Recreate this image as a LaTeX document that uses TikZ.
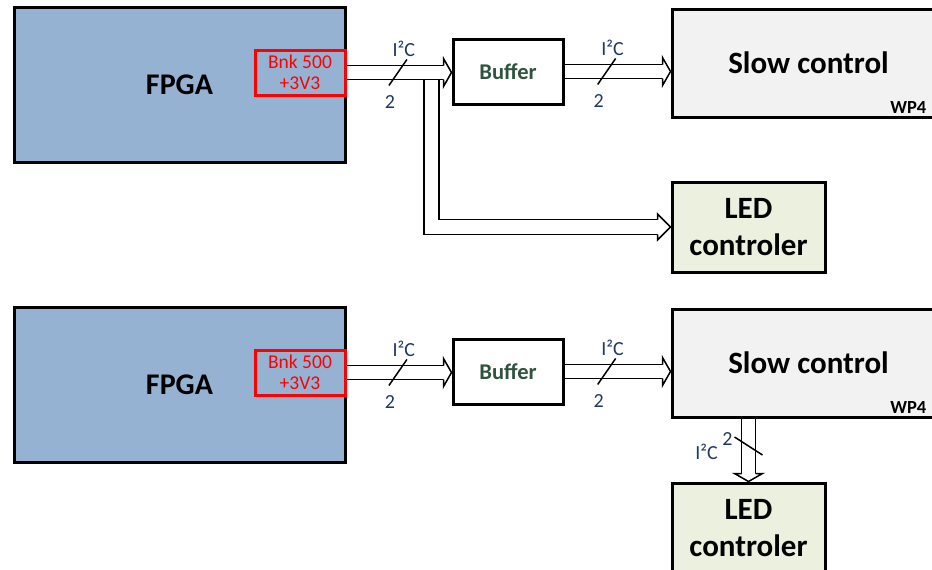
\documentclass[tikz,border=0pt]{standalone}
\usepackage{fontspec}
\setmainfont{Carlito}
\definecolor{fpgablue}{RGB}{150,178,210}
\definecolor{slowgray}{RGB}{242,242,242}
\definecolor{ledgreen}{RGB}{235,241,222}
\definecolor{bufgreen}{RGB}{46,84,62}
\definecolor{busblue}{RGB}{31,56,100}
\tikzset{
  head/.pic={\filldraw[fill=white, line width=1.5pt, miter limit=10]
    (-8,-7) -- (-8,-14) -- (0,0) -- (-8,14) -- (-8,7);},
  longhead/.pic={\filldraw[fill=white, line width=1.5pt, miter limit=10]
    (-13,-7.5) -- (-13,-13) -- (0,0) -- (-13,13) -- (-13,7.5);}
}
\begin{document}
\begin{tikzpicture}[x=1pt, y=-1pt,
    box/.style={draw, line width=3pt, align=center, inner sep=0pt,
      font=\bfseries\fontsize{31}{37}\selectfont},
    bank/.style={draw=red, line width=3pt, text=red, align=center, inner sep=0pt,
      font=\fontsize{19.5}{21}\selectfont},
    bus/.style={double, double distance=12.5pt, line width=1.5pt},
    slash/.style={line width=1.5pt},
    lbl/.style={text=busblue, inner sep=0pt, font=\fontsize{20}{22}\selectfont},
    wp/.style={inner sep=0pt, font=\bfseries\fontsize{18.5}{20}\selectfont}]
    \useasboundingbox (0,0) rectangle (932,570);
    \clip (0,0) rectangle (932,570);

    % Define nodes (top)
    \node[box, fill=fpgablue, minimum width=331, minimum height=155, font=\bfseries\fontsize{30}{34}\selectfont] (fpga1) at (179.5,84.5) {FPGA};
    \node[bank, minimum width=90, minimum height=45] (bnk1) at (300,72.5) {Bnk 500\\+3V3};
    \node[box, fill=white, text=bufgreen, minimum width=110, minimum height=65, font=\bfseries\fontsize{22.5}{26}\selectfont] (buf1) at (508,71.5) {Buffer};
    \node[box, fill=slowgray, minimum width=273, minimum height=108] (slow1) at (808.5,63) {Slow control};
    \node[wp, anchor=south east] (wp1) at ([shift={(-20,-5)}]slow1.south east) {WP4};
    \node[box, fill=ledgreen, minimum width=153, minimum height=90] (led1) at (748.5,227) {LED\\controler};
    \coordinate (br1) at (431.5,79.5);

    % Define nodes (bottom)
    \node[box, fill=fpgablue, minimum width=331, minimum height=155, font=\bfseries\fontsize{30}{34}\selectfont] (fpga2) at (179.5,384.5) {FPGA};
    \node[bank, minimum width=90, minimum height=45] (bnk2) at (300,372.5) {Bnk 500\\+3V3};
    \node[box, fill=white, text=bufgreen, minimum width=110, minimum height=65, font=\bfseries\fontsize{22.5}{26}\selectfont] (buf2) at (508,371.5) {Buffer};
    \node[box, fill=slowgray, minimum width=273, minimum height=108] (slow2) at (808.5,363) {Slow control};
    \node[wp, anchor=south east] (wp2) at ([shift={(-20,-5)}]slow2.south east) {WP4};
    \node[box, fill=ledgreen, minimum width=153, minimum height=90] (led2) at (748.5,528) {LED\\controler};

    % Draw buses (top)
    \draw[bus, double distance=13.5pt] (br1) |- ([shift={(-13,0)}]led1.west);
    \pic at (led1.west) {longhead};
    \draw[bus] (bnk1.east) -- coordinate[pos=.53] (s1) ([shift={(-8,0)}]bnk1.east -| buf1.west);
    \pic at (bnk1.east -| buf1.west) {head};
    \draw[bus] (buf1.east) -- coordinate[pos=.43] (s2) ([shift={(-8,0)}]buf1.east -| slow1.west);
    \pic at (buf1.east -| slow1.west) {head};

    % Draw buses (bottom)
    \draw[bus] (bnk2.east) -- coordinate[pos=.53] (s3) ([shift={(-8,0)}]bnk2.east -| buf2.west);
    \pic at (bnk2.east -| buf2.west) {head};
    \draw[bus] (buf2.east) -- coordinate[pos=.43] (s4) ([shift={(-8,0)}]buf2.east -| slow2.west);
    \pic at (buf2.east -| slow2.west) {head};
    \draw[bus] (led2.north |- slow2.south) -- coordinate[pos=.5] (s5) ([shift={(0,-8)}]led2.north);
    \pic[rotate=-90] at (led2.north) {head};

    % Bus widths
    \foreach \s in {s1,s2,s3,s4} {
      \draw[slash] ([shift={(-9,13)}]\s) -- ([shift={(9,-13)}]\s);
      \node[lbl] at ([shift={(6,-24)}]\s) {I²C};
      \node[lbl] at ([shift={(-8,30)}]\s) {2};
    }
    \draw[slash] ([shift={(-14,-9)}]s5) -- ([shift={(14,9)}]s5);
    \node[lbl] at ([shift={(-21,-7)}]s5) {2};
    \node[lbl] at ([shift={(-42,6)}]s5) {I²C};

\end{tikzpicture}
\end{document}
